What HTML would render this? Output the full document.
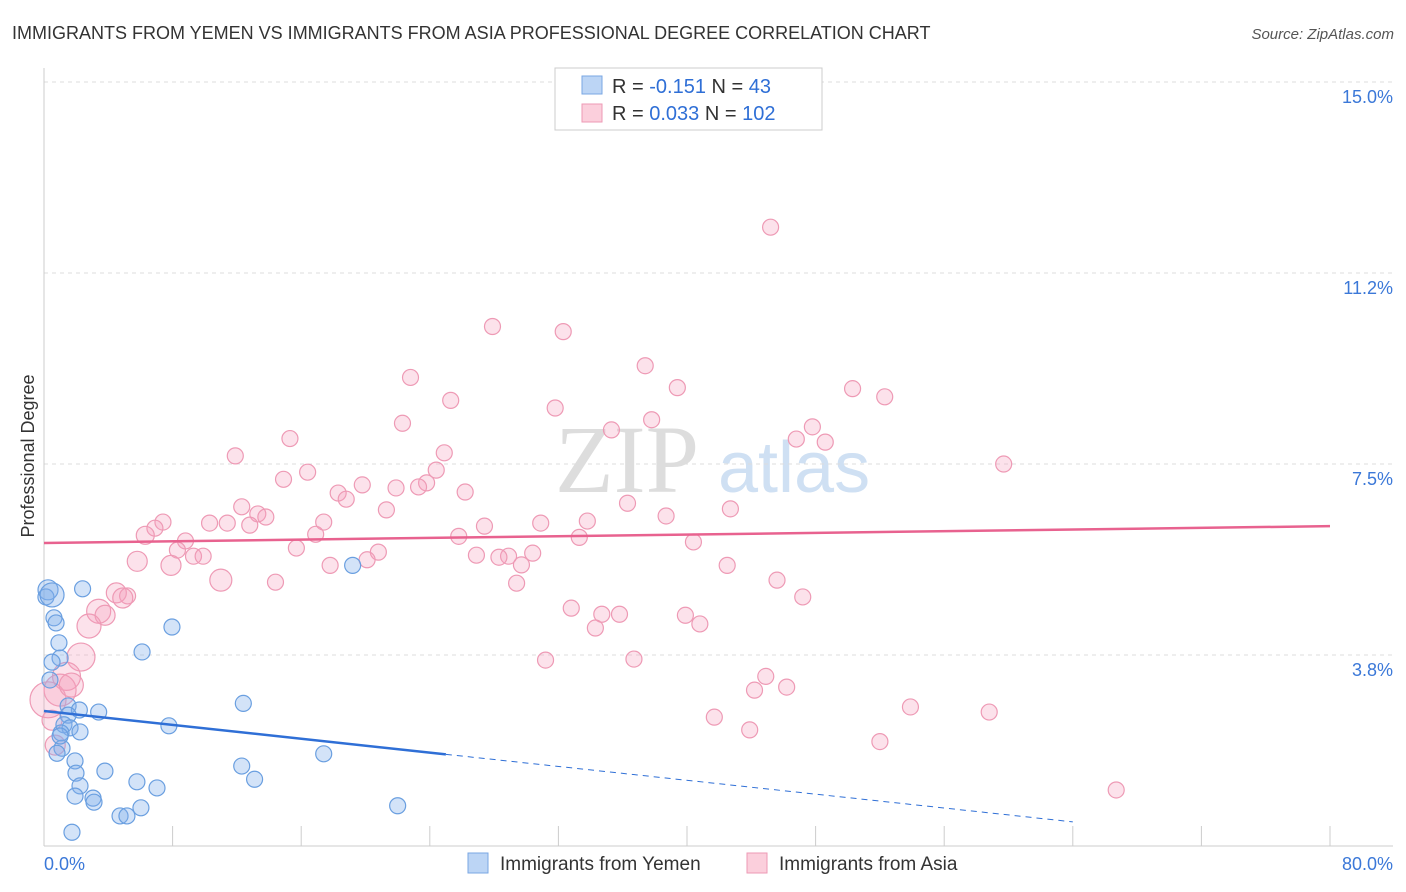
<!DOCTYPE html>
<html><head><meta charset="utf-8"><style>
body{margin:0;background:#fff;font-family:"Liberation Sans",sans-serif}
svg{display:block}
</style></head><body>
<svg id="c" width="1406" height="892">
<text x="12" y="39" font-size="18" fill="#333">IMMIGRANTS FROM YEMEN VS IMMIGRANTS FROM ASIA PROFESSIONAL DEGREE CORRELATION CHART</text>
<text x="1394" y="39" font-size="15" fill="#555" font-style="italic" text-anchor="end">Source: ZipAtlas.com</text>
<text x="34" y="456" font-size="18" fill="#333" text-anchor="middle" transform="rotate(-90 34 456)">Professional Degree</text>
<text x="555" y="492" font-size="96" fill="#ddd" font-family="Liberation Serif,serif">ZIP</text>
<text x="718" y="492" font-size="72" fill="#cfe0f3">atlas</text>
<g id="grid"></g><g id="pts"></g><g id="lines"></g>
<g>
<rect x="555" y="68" width="267" height="62" fill="#fff" stroke="#ccc"/>
<rect x="582" y="76" width="20" height="18" fill="#bcd5f5" stroke="#7aa7e3"/>
<rect x="582" y="104" width="20" height="18" fill="#fbcfdc" stroke="#ee9ab5"/>
<text x="612" y="93" font-size="20" fill="#333">R = <tspan fill="#2f6fd6">-0.151</tspan>   N = <tspan fill="#2f6fd6"> 43</tspan></text>
<text x="612" y="120" font-size="20" fill="#333">R = <tspan fill="#2f6fd6">0.033</tspan>   N = <tspan fill="#2f6fd6">102</tspan></text>
</g>
<g>
<rect x="468" y="853" width="20" height="20" fill="#bcd5f5" stroke="#7aa7e3"/>
<text x="500" y="870" font-size="19" fill="#333">Immigrants from Yemen</text>
<rect x="747" y="853" width="20" height="20" fill="#fbcfdc" stroke="#ee9ab5"/>
<text x="779" y="870" font-size="19" fill="#333">Immigrants from Asia</text>
</g>
</svg>
<script>
const yTicks=[3.75,7.5,11.25,15];
const yTickLabels=["3.8%","7.5%","11.2%","15.0%"];
const xTicks=[0,8,16,24,32,40,48,56,64,72,80];
const asiaX=[45.2,27.9,32.3,37.4,22.8,39.4,25.3,50.3,52.3,31.8,22.3,15.3,37.8,35.3,47.8,46.8,48.6,11.9,24.9,59.7,16.4,14.9,24.4,23.8,23.3,19.8,21.9,18.3,18.8,26.2,36.3,12.3,13.3,13.8,21.3,38.7,42.7,7.4,6.9,10.3,11.4,12.8,17.4,27.4,30.9,33.8,6.3,8.8,16.9,25.8,33.3,40.4,8.3,15.7,20.8,28.9,30.4,26.9,28.3,9.3,9.9,5.8,7.9,17.8,20.1,29.7,42.5,11.0,14.4,29.4,45.6,4.5,5.2,4.9,47.2,3.4,3.8,32.8,34.7,35.8,39.9,40.8,34.3,2.8,2.3,31.2,36.7,1.4,1.0,44.9,44.2,46.2,53.9,58.8,41.7,43.9,52.0,0.5,0.7,66.7,0.25,1.7];
const asiaY=[12.15,10.2,10.1,9.43,9.2,9.0,8.75,8.98,8.82,8.6,8.3,8.0,8.37,8.17,8.23,7.99,7.93,7.66,7.72,7.5,7.34,7.2,7.38,7.13,7.05,7.09,7.03,6.93,6.81,6.95,6.73,6.66,6.52,6.46,6.6,6.48,6.62,6.36,6.24,6.34,6.34,6.3,6.36,6.28,6.34,6.38,6.1,5.99,6.12,6.08,6.06,5.97,5.81,5.85,5.77,5.69,5.75,5.71,5.67,5.69,5.69,5.59,5.51,5.51,5.62,5.52,5.51,5.22,5.18,5.16,5.22,4.97,4.91,4.87,4.89,4.61,4.53,4.67,4.55,4.55,4.53,4.36,4.28,4.32,3.71,3.65,3.67,3.33,3.06,3.33,3.06,3.12,2.73,2.63,2.53,2.28,2.05,2.47,1.98,1.10,2.87,3.16];
const asiaR=[8,8,8,8,8,8,8,8,8,8,8,8,8,8,8,8,8,8,8,8,8,8,8,8,8,8,8,8,8,8,8,8,8,8,8,8,8,8,8,8,8,8,8,8,8,8,9,8,8,8,8,8,8,8,8,8,8,8,8,8,8,10,10,8,8,8,8,11,8,8,8,10,8,10,8,12,10,8,8,8,8,8,8,12,14,8,8,14,16,8,8,8,8,8,8,8,8,10,10,8,18,12];
const yemX=[0.25,0.12,2.4,0.62,0.75,0.93,1.0,0.5,0.37,7.96,6.1,19.2,12.4,1.5,3.4,2.2,1.5,1.24,1.62,2.24,1.06,7.77,1.12,0.81,17.4,1.93,12.3,3.79,1.99,13.1,2.24,5.78,7.03,1.93,3.05,3.11,6.03,22.0,4.73,5.16,1.74,0.5,1.0];
const yemY=[5.03,4.89,5.05,4.48,4.38,3.99,3.69,3.61,3.26,4.3,3.81,5.51,2.8,2.75,2.63,2.67,2.57,2.38,2.32,2.24,2.22,2.36,1.92,1.82,1.81,1.67,1.57,1.47,1.43,1.31,1.18,1.26,1.14,0.98,0.94,0.86,0.75,0.79,0.59,0.59,0.27,4.93,2.16];
const yemR=[10,8,8,8,8,8,8,8,8,8,8,8,8,8,8,8,8,8,8,8,8,8,8,8,8,8,8,8,8,8,8,8,8,8,8,8,8,8,8,8,8,12,8];
const asiaTrend=[5.95,6.28];
const yemTrend=[2.65,-0.07];
const X0=44,X1=1330,Y0=846,PY=50.93;
const sx=v=>X0+v/80*(X1-X0), sy=v=>Y0-v*PY;
const NS="http://www.w3.org/2000/svg";
function mk(t,a,p){const e=document.createElementNS(NS,t);for(const k in a)e.setAttribute(k,a[k]);p.appendChild(e);return e;}
const grid=document.getElementById('grid'),pts=document.getElementById('pts'),lines=document.getElementById('lines');
yTicks.forEach((t,i)=>{
 const l=mk('line',{x1:X0,x2:1393,y1:sy(t),y2:sy(t),stroke:'#ddd','stroke-dasharray':'4,4'},grid);
 
 
 const tx=mk('text',{x:1393,y:sy(t)+21,'font-size':18,fill:'#3b78d8','text-anchor':'end'},grid);
 tx.textContent=yTickLabels[i];
 
 
});
const ax=mk('line',{x1:X0,x2:1393,y1:Y0,y2:Y0,stroke:'#ccc'},grid);


const ay=mk('line',{x1:X0,x2:X0,y1:68,y2:Y0,stroke:'#ccc'},grid);


xTicks.forEach(t=>{const l=mk('line',{x1:sx(t),x2:sx(t),y1:826,y2:Y0,stroke:'#ccc'},grid);
 
 });
const xl=mk('text',{x:44,y:870,'font-size':18,fill:'#3b78d8'},grid);xl.textContent='0.0%';


const xr=mk('text',{x:1393,y:870,'font-size':18,fill:'#3b78d8','text-anchor':'end'},grid);xr.textContent='80.0%';


asiaX.forEach((v,i)=>{const c=mk('circle',{cx:sx(v),cy:sy(asiaY[i]),r:asiaR[i],fill:'rgba(244,160,190,0.3)',stroke:'#ee9ab5','stroke-width':1.2},pts);
 
 });
yemX.forEach((v,i)=>{const c=mk('circle',{cx:sx(v),cy:sy(yemY[i]),r:yemR[i],fill:'rgba(130,175,235,0.35)',stroke:'#6a9fe0','stroke-width':1.2},pts);
 
 });
const pl=mk('line',{x1:sx(0),y1:sy(asiaTrend[0]),x2:sx(80),y2:sy(asiaTrend[1]),stroke:'#e8628f','stroke-width':2.5},lines);


const yAt=x=>yemTrend[0]+(yemTrend[1]-yemTrend[0])*x/80;
const bl=mk('line',{x1:sx(0),y1:sy(yAt(0)),x2:sx(25),y2:sy(yAt(25)),stroke:'#2f6fd6','stroke-width':2.5},lines);


const bd=mk('line',{x1:sx(25),y1:sy(yAt(25)),x2:sx(64),y2:sy(yAt(64)),stroke:'#2f6fd6','stroke-width':1,'stroke-dasharray':'6,5'},lines);


</script>
</body></html>
